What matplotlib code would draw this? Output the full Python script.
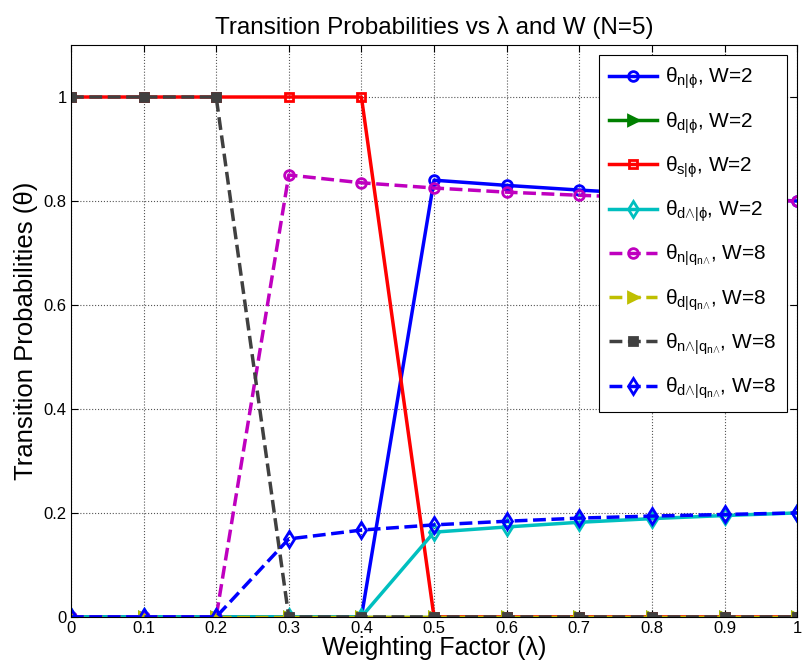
import numpy as np
import matplotlib.pyplot as plt
from matplotlib.ticker import FormatStrFormatter

plt.rcParams['font.family'] = ['Liberation Sans', 'DejaVu Sans']
plt.rcParams['mathtext.fontset'] = 'custom'
plt.rcParams['mathtext.rm'] = 'Liberation Sans'
plt.rcParams['mathtext.it'] = 'Liberation Sans'
plt.rcParams['mathtext.bf'] = 'Liberation Sans:bold'

lam = [0, 0.1, 0.2, 0.3, 0.4, 0.5, 0.6, 0.7, 0.8, 0.9, 1.0]

# W = 2
n_phi = [0, 0, 0, 0, 0, 0.840, 0.830, 0.821, 0.813, 0.806, 0.800]
d_phi = [0, 0, 0, 0, 0, 0, 0, 0, 0, 0, 0]
s_phi = [1, 1, 1, 1, 1, 0, 0, 0, 0, 0, 0]
dh_phi = [0, 0, 0, 0, 0, 0.163, 0.173, 0.182, 0.189, 0.195, 0.200]

# W = 8
n_q = [0, 0, 0, 0.850, 0.835, 0.825, 0.817, 0.811, 0.806, 0.803, 0.800]
d_q = [0, 0, 0, 0, 0, 0, 0, 0, 0, 0, 0]
nh_q = [1, 1, 1, 0, 0, 0, 0, 0, 0, 0, 0]
dh_q = [0, 0, 0, 0.150, 0.167, 0.177, 0.184, 0.190, 0.194, 0.197, 0.200]

C = r'{\wedge}'
labels = [
    r'$\theta_{n|\phi}$, W=2',
    r'$\theta_{d|\phi}$, W=2',
    r'$\theta_{s|\phi}$, W=2',
    r'$\theta_{d' + C + r'|\phi}$, W=2',
    r'$\theta_{n|q_{n' + C + r'}}$, W=8',
    r'$\theta_{d|q_{n' + C + r'}}$, W=8',
    r'$\theta_{n' + C + r'|q_{n' + C + r'}}$, W=8',
    r'$\theta_{d' + C + r'|q_{n' + C + r'}}$, W=8',
]

fig = plt.figure(figsize=(8.06, 6.72), dpi=100)
ax = fig.add_axes([0.088, 0.082, 0.901, 0.851])

lw = 2.5
ms = 7
ax.plot(lam, n_phi, '-', color='#0000ff', lw=lw, marker='o', ms=ms, mfc='none', mew=2, label=labels[0])
ax.plot(lam, d_phi, '-', color='#008000', lw=lw, marker='>', ms=ms, mew=2, label=labels[1])
ax.plot(lam, s_phi, '-', color='#ff0000', lw=lw, marker='s', ms=ms - 1, mfc='none', mew=2, label=labels[2])
ax.plot(lam, dh_phi, '-', color='#00bfbf', lw=lw, marker='d', ms=ms + 1, mfc='none', mew=2, label=labels[3])
ax.plot(lam, n_q, '--', color='#bf00bf', lw=lw, marker='o', ms=ms, mfc='none', mew=2, label=labels[4])
ax.plot(lam, d_q, '--', color='#bfbf00', lw=lw, marker='>', ms=ms, mew=2, label=labels[5])
ax.plot(lam, nh_q, '--', color='#404040', lw=lw, marker='s', ms=ms - 1, mew=2, label=labels[6])
ax.plot(lam, dh_q, '--', color='#0000ff', lw=lw, marker='d', ms=ms + 1, mfc='none', mew=2, label=labels[7])

ax.set_xlim(0, 1)
ax.set_ylim(0, 1.1)
ax.set_xticks(lam)
ax.set_yticks([0, 0.2, 0.4, 0.6, 0.8, 1.0])
ax.xaxis.set_major_formatter(FormatStrFormatter('%g'))
ax.yaxis.set_major_formatter(FormatStrFormatter('%g'))
ax.tick_params(direction='in', top=True, right=True, labelsize=12, length=5, pad=3)
ax.grid(True, linestyle=':', color='#555555', lw=0.8)
for sp in ax.spines.values():
    sp.set_linewidth(0.8)

ax.set_title('Transition Probabilities vs \u03bb and W (N=5)', fontsize=17.5, pad=8)
ax.set_xlabel('Weighting Factor (\u03bb)', fontsize=18, labelpad=0)
ax.set_ylabel('Transition Probabilities (\u03b8)', fontsize=18.5, labelpad=4)

leg = ax.legend(loc='upper right', fontsize=15, fancybox=False, edgecolor='black',
                framealpha=1, handlelength=2.3, labelspacing=0.9, borderaxespad=0.5,
                handletextpad=0.4, borderpad=0.5)
leg.get_frame().set_linewidth(0.8)

fig.savefig('out.png', dpi=100)
